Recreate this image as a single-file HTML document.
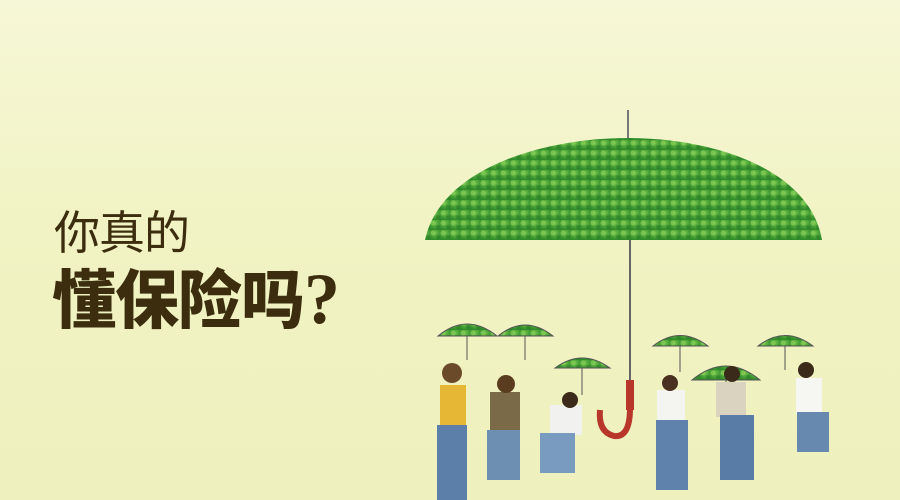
<!DOCTYPE html>
<html><head><meta charset="utf-8"><style>
html,body{margin:0;padding:0}
#c{position:relative;width:900px;height:500px;overflow:hidden;background:linear-gradient(180deg,#f6f7d6 0%,#f1f3c4 45%,#eef0bd 100%)}
.t{position:absolute;font-family:"Liberation Sans","Noto Sans CJK SC",sans-serif;color:#3b2d0e;white-space:nowrap}
</style></head><body>
<div id="c">
<div class="t" style="left:54px;top:197px;font-size:46px;font-weight:400;letter-spacing:-1px">你真的</div>
<div class="t" style="left:52px;top:250px;font-size:64px;font-weight:900;letter-spacing:-1px">懂保险吗<span style="font-size:72px;font-family:'Liberation Serif',serif;letter-spacing:0">?</span></div>
<svg width="900" height="500" style="position:absolute;left:0;top:0">
<defs>
<radialGradient id="g" cx="50%" cy="30%" r="70%"><stop offset="0" stop-color="#6fc24a"/><stop offset="1" stop-color="#2f8a2a"/></radialGradient>
<pattern id="lv" width="10" height="10" patternUnits="userSpaceOnUse"><rect width="10" height="10" fill="url(#g)"/><circle cx="3" cy="3" r="2.5" fill="#8fd45c" opacity=".6"/><circle cx="8" cy="7" r="2" fill="#2a7a25" opacity=".5"/></pattern>
</defs>
<g>
<line x1="628" y1="110" x2="628" y2="140" stroke="#777" stroke-width="2"/>
<path d="M425,240 C440,170 540,138 628,138 C716,138 810,170 822,240 Z" fill="url(#lv)"/>
<line x1="630" y1="240" x2="630" y2="385" stroke="#666" stroke-width="2"/>
<rect x="626" y="380" width="8" height="30" fill="#b8372a"/>
<path d="M630,408 Q630,438 614,436 Q598,432 600,410" fill="none" stroke="#b8372a" stroke-width="6"/>
</g>
<g fill="url(#lv)" stroke="#555" stroke-width="1">
<path d="M438,336 Q467,312 497,336 Z"/><line x1="467" y1="336" x2="467" y2="360"/>
<path d="M498,336 Q525,314 553,336 Z"/><line x1="525" y1="336" x2="525" y2="360"/>
<path d="M555,368 Q582,348 610,368 Z"/><line x1="582" y1="368" x2="582" y2="395"/>
<path d="M653,346 Q680,325 708,346 Z"/><line x1="680" y1="346" x2="680" y2="372"/>
<path d="M692,380 Q726,352 760,380 Z"/><line x1="726" y1="380" x2="726" y2="385"/>
<path d="M758,346 Q785,325 813,346 Z"/><line x1="785" y1="346" x2="785" y2="370"/>
</g>
<g>
<rect x="440" y="385" width="26" height="40" fill="#e6b734"/><rect x="437" y="425" width="30" height="75" fill="#5b7fa8"/><circle cx="452" cy="373" r="10" fill="#6b4a2a"/>
<rect x="490" y="392" width="30" height="40" fill="#7b6a48"/><rect x="487" y="430" width="33" height="50" fill="#6c8fb2"/><circle cx="506" cy="384" r="9" fill="#5a3c1e"/>
<rect x="550" y="405" width="32" height="30" fill="#f1f1f0"/><rect x="540" y="433" width="35" height="40" fill="#7a9bc0"/><circle cx="570" cy="400" r="8" fill="#3b2a1a"/>
<rect x="657" y="390" width="28" height="32" fill="#f4f4f0"/><rect x="656" y="420" width="32" height="70" fill="#5e82ab"/><circle cx="670" cy="383" r="8" fill="#4a3020"/>
<rect x="716" y="382" width="30" height="35" fill="#d9d3c0"/><rect x="720" y="415" width="34" height="65" fill="#587ca6"/><circle cx="732" cy="374" r="8" fill="#3a2a1a"/>
<rect x="796" y="378" width="26" height="36" fill="#f6f6f2"/><rect x="797" y="412" width="32" height="40" fill="#6789b0"/><circle cx="806" cy="370" r="8" fill="#3a2a1a"/>
</g>
</svg>
</div>
</body></html>
